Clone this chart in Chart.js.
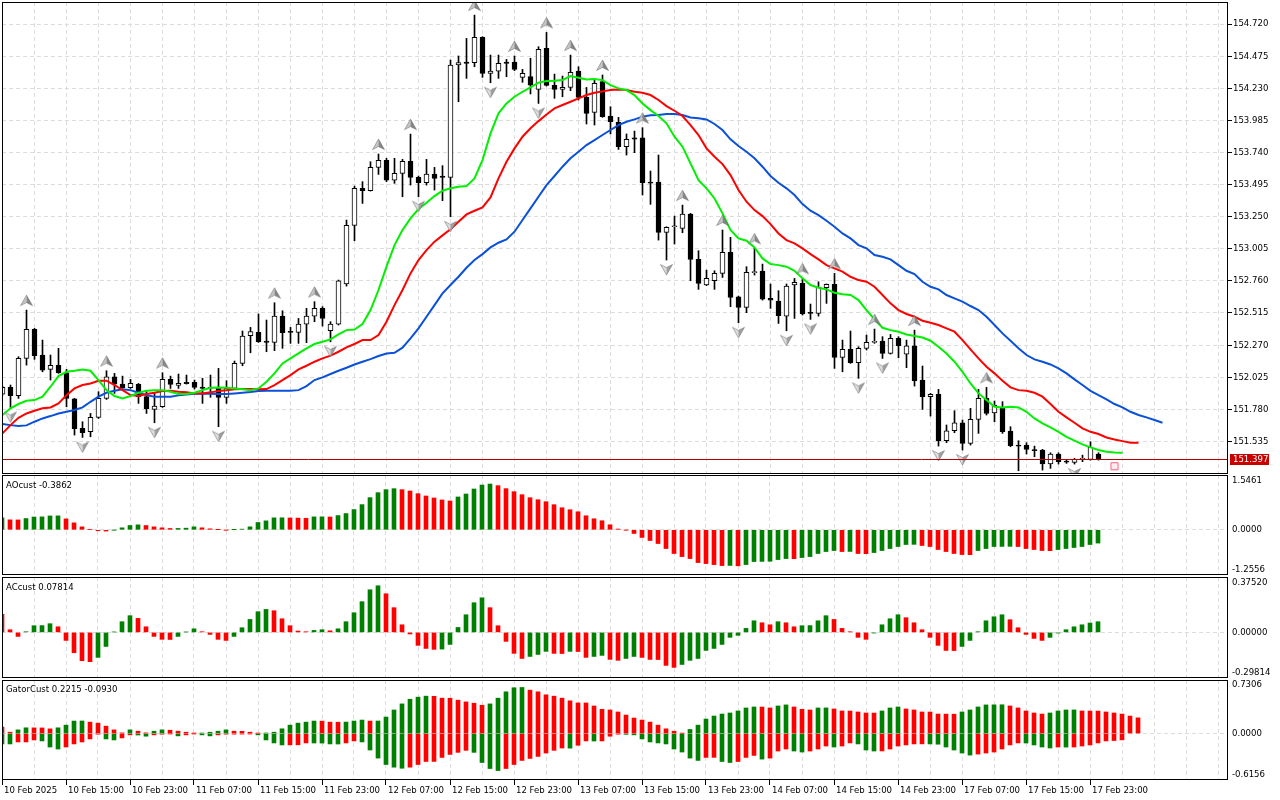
<!DOCTYPE html>
<html lang="en">
<head>
<meta charset="utf-8">
<title>USDJPY H1 - Alligator, AO, AC, Gator</title>
<style>
  body { margin: 0; background: #fff; width: 1280px; height: 800px; overflow: hidden; position: relative; }
  canvas { position: absolute; left: 0; }
  .ttl { position: absolute; left: 6px; font: 9.5px "DejaVu Sans Condensed", "DejaVu Sans", sans-serif; line-height: 11px; color: #000; white-space: pre; }
</style>
</head>
<body>
<canvas id="cMain" width="1280" height="472" style="top:2px"></canvas>
<canvas id="cAO" width="1280" height="100" style="top:475px"></canvas>
<canvas id="cAC" width="1280" height="101" style="top:577px"></canvas>
<canvas id="cGator" width="1280" height="120" style="top:680px"></canvas>
<div class="ttl" style="top:479px">AOcust -0.3862</div>
<div class="ttl" style="top:581px">ACcust 0.07814</div>
<div class="ttl" style="top:683px">GatorCust 0.2215 -0.0930</div>

<script src="https://cdn.jsdelivr.net/npm/chart.js@4.4.1/dist/chart.umd.min.js"></script>
<script>
// ---- data (hourly bars, 10 Feb 07:00 .. 18 Feb 00:00) ----
var timeLabels = ['10 Feb 2025', '10 Feb 15:00', '10 Feb 23:00', '11 Feb 07:00', '11 Feb 15:00', '11 Feb 23:00',
  '12 Feb 07:00', '12 Feb 15:00', '12 Feb 23:00', '13 Feb 07:00', '13 Feb 15:00', '13 Feb 23:00',
  '14 Feb 07:00', '14 Feb 15:00', '14 Feb 23:00', '17 Feb 07:00', '17 Feb 15:00', '17 Feb 23:00'];

var opens = [151.896,151.947,151.883,152.168,152.390,152.194,152.084,152.115,152.059,151.860,
  151.634,151.609,151.718,151.863,152.028,151.972,151.944,151.970,151.876,151.779,
  151.799,152.008,151.962,151.985,151.985,151.949,151.939,151.939,151.871,151.939,
  152.130,152.341,152.367,152.301,152.290,152.491,152.372,152.367,152.430,152.491,
  152.550,152.379,152.430,152.736,153.183,153.466,153.448,153.626,153.679,153.529,
  153.580,153.672,153.550,153.509,153.575,153.560,153.550,154.407,154.430,154.425,
  154.618,154.343,154.361,154.430,154.430,154.313,154.318,154.221,154.534,154.252,
  154.221,154.236,154.361,154.160,154.046,154.280,154.018,153.969,153.784,153.852,
  153.852,153.514,153.514,153.130,153.173,153.160,153.270,152.924,152.728,152.761,
  152.817,152.977,152.639,152.557,152.822,152.835,152.626,152.606,152.491,152.728,
  152.741,152.519,152.512,152.708,152.733,152.176,152.237,152.135,152.245,152.290,
  152.301,152.206,152.321,152.201,152.265,152.003,151.876,151.894,151.540,151.616,
  151.677,151.520,151.703,151.863,151.753,151.787,151.614,151.504,151.507,151.469,
  151.469,151.362,151.438,151.385,151.375,151.397,151.397,151.438];
var highs = [151.957,151.965,152.181,152.537,152.397,152.308,152.194,152.245,152.084,151.863,
  151.685,151.748,151.914,152.074,152.054,152.033,152.008,151.977,151.914,151.901,
  152.059,152.033,152.049,152.041,152.003,152.016,152.041,152.092,151.998,152.148,
  152.377,152.405,152.507,152.461,152.593,152.532,152.405,152.473,152.550,152.601,
  152.563,152.448,152.766,153.224,153.483,153.517,153.669,153.728,153.695,153.695,
  153.687,153.880,153.560,153.687,153.626,153.639,154.445,154.476,154.610,154.788,
  154.623,154.483,154.483,154.450,154.476,154.374,154.458,154.547,154.656,154.338,
  154.323,154.483,154.394,154.236,154.298,154.331,154.089,154.008,153.881,153.903,
  153.929,153.598,153.720,153.173,153.254,153.338,153.275,152.990,152.842,152.837,
  153.148,153.092,152.644,152.868,153.008,152.888,152.736,152.685,152.736,152.779,
  152.779,152.583,152.753,152.736,152.817,152.308,152.377,152.257,152.346,152.392,
  152.334,152.351,152.334,152.308,152.384,152.110,151.901,151.932,151.660,151.769,
  151.698,151.787,151.932,151.947,151.843,151.838,151.647,151.540,151.525,151.499,
  151.474,151.448,151.448,151.397,151.405,151.430,151.532,151.448];
var lows = [151.888,151.794,151.863,152.117,152.161,152.066,152.003,152.054,151.799,151.583,
  151.565,151.570,151.710,151.855,151.901,151.939,151.939,151.825,151.748,151.677,
  151.794,151.939,151.939,151.972,151.934,151.825,151.871,151.647,151.825,151.932,
  152.112,152.211,152.290,152.219,152.227,152.245,152.283,152.283,152.288,152.448,
  152.415,152.295,152.423,152.720,153.066,153.351,153.445,153.572,153.517,153.504,
  153.402,153.491,153.402,153.491,153.453,153.372,153.249,154.127,154.305,154.394,
  154.313,154.272,154.305,154.318,154.364,154.275,154.186,154.114,154.247,154.153,
  154.165,154.211,154.140,153.957,153.949,154.008,153.881,153.763,153.720,153.738,
  153.415,153.344,153.071,152.919,153.041,153.127,152.761,152.695,152.723,152.695,
  152.786,152.563,152.440,152.517,152.804,152.613,152.550,152.435,152.379,152.473,
  152.499,152.466,152.491,152.588,152.092,152.066,152.130,152.016,152.232,152.283,
  152.168,152.201,152.173,152.097,151.957,151.779,151.728,151.499,151.525,151.601,
  151.469,151.507,151.596,151.736,151.685,151.596,151.494,151.311,151.438,151.418,
  151.316,151.329,151.362,151.367,151.362,151.380,151.392,151.392];
var closes = [151.947,151.883,152.168,152.390,152.189,152.079,152.115,152.059,151.863,151.631,
  151.601,151.718,151.863,152.028,151.972,151.944,151.977,151.876,151.784,151.804,
  152.008,151.970,151.977,151.975,151.947,151.939,151.944,151.871,151.939,152.130,
  152.339,152.372,152.295,152.290,152.491,152.364,152.367,152.430,152.491,152.550,
  152.473,152.430,152.761,153.183,153.466,153.448,153.626,153.679,153.529,153.580,
  153.672,153.550,153.509,153.575,153.542,153.550,154.407,154.425,154.420,154.618,
  154.343,154.361,154.420,154.420,154.374,154.343,154.254,154.526,154.252,154.221,
  154.236,154.351,154.160,154.038,154.267,154.013,153.974,153.784,153.840,153.842,
  153.509,153.506,153.130,153.168,153.178,153.270,152.924,152.741,152.779,152.817,
  152.977,152.634,152.557,152.825,152.830,152.621,152.613,152.494,152.720,152.748,
  152.507,152.512,152.710,152.733,152.176,152.237,152.135,152.245,152.290,152.298,
  152.206,152.321,152.265,152.265,151.998,151.876,151.894,151.540,151.616,151.677,
  151.520,151.703,151.863,151.748,151.812,151.609,151.502,151.499,151.474,151.464,
  151.362,151.438,151.380,151.377,151.397,151.402,151.489,151.397];

// Alligator lines (already shifted forward: jaw 8, teeth 5, lips 3 bars)
var jaw = [151.667,151.659,151.652,151.657,151.685,151.710,151.728,151.748,151.761,151.774,
  151.794,151.837,151.876,151.906,151.921,151.932,151.926,151.906,151.888,151.876,
  151.876,151.876,151.886,151.893,151.899,151.901,151.899,151.896,151.896,151.901,
  151.906,151.911,151.919,151.921,151.921,151.921,151.921,151.926,151.957,152.003,
  152.023,152.049,152.074,152.097,152.122,152.143,152.163,152.186,152.206,152.211,
  152.250,152.321,152.397,152.486,152.575,152.664,152.728,152.791,152.860,152.919,
  152.964,153.015,153.051,153.076,153.135,153.224,153.313,153.402,153.491,153.560,
  153.631,153.695,153.745,153.796,153.834,153.873,153.911,153.949,153.974,153.992,
  154.013,154.023,154.025,154.033,154.033,154.025,154.007,154.000,153.992,153.957,
  153.911,153.840,153.789,153.745,153.695,153.631,153.560,153.509,153.466,153.415,
  153.346,153.295,153.262,153.219,153.173,153.122,153.084,153.033,153.008,152.957,
  152.944,152.924,152.880,152.837,152.812,152.753,152.715,152.695,152.652,152.626,
  152.601,152.568,152.537,152.486,152.423,152.359,152.303,152.245,152.194,152.161,
  152.143,152.122,152.092,152.054,152.008,151.965,151.921,151.888,151.855,151.820,
  151.794,151.761,151.736,151.718,151.698,151.677];
var teeth = [151.596,151.659,151.715,151.748,151.769,151.787,151.794,151.825,151.888,151.939,
  151.965,151.977,151.998,151.998,151.965,151.926,151.888,151.881,151.896,151.906,
  151.919,151.921,151.914,151.909,151.901,151.901,151.909,151.919,151.926,151.932,
  151.934,151.934,151.932,151.934,151.965,152.003,152.041,152.084,152.112,152.143,
  152.168,152.189,152.219,152.252,152.278,152.308,152.308,152.346,152.448,152.575,
  152.690,152.817,152.919,152.995,153.059,153.107,153.153,153.211,153.267,153.295,
  153.321,153.397,153.542,153.669,153.771,153.860,153.924,153.979,154.030,154.076,
  154.102,154.127,154.152,154.178,154.196,154.206,154.216,154.221,154.216,154.203,
  154.196,154.178,154.140,154.094,154.058,154.018,153.949,153.873,153.771,153.707,
  153.651,153.567,153.453,153.364,153.300,153.254,153.193,153.122,153.071,153.046,
  153.008,152.964,152.924,152.880,152.855,152.830,152.791,152.766,152.753,152.715,
  152.652,152.588,152.537,152.507,152.486,152.456,152.440,152.423,152.397,152.372,
  152.308,152.237,152.168,152.105,152.054,151.998,151.947,151.926,151.921,151.906,
  151.876,151.820,151.761,151.718,151.677,151.634,151.608,151.591,151.565,151.550,
  151.537,151.525,151.525];
var lips = [151.736,151.787,151.820,151.845,151.850,151.876,151.952,152.033,152.066,152.074,
  152.084,152.074,152.003,151.926,151.881,151.863,151.881,151.906,151.921,151.926,
  151.926,151.914,151.896,151.896,151.906,151.926,151.944,151.947,151.944,151.939,
  151.932,151.926,151.939,151.990,152.054,152.130,152.168,152.206,152.245,152.278,
  152.295,152.313,152.351,152.384,152.389,152.430,152.537,152.690,152.868,153.033,
  153.148,153.237,153.308,153.356,153.407,153.448,153.466,153.478,153.483,153.542,
  153.682,153.885,154.038,154.114,154.165,154.203,154.236,154.272,154.285,154.287,
  154.292,154.323,154.310,154.297,154.300,154.292,154.254,154.229,154.216,154.178,
  154.114,154.063,154.018,153.962,153.860,153.784,153.656,153.529,153.466,153.389,
  153.275,153.148,153.084,153.066,153.015,152.931,152.888,152.880,152.868,152.837,
  152.779,152.728,152.707,152.695,152.669,152.657,152.652,152.613,152.537,152.466,
  152.402,152.384,152.372,152.351,152.339,152.328,152.303,152.257,152.206,152.143,
  152.066,151.977,151.901,151.850,151.799,151.794,151.799,151.794,151.761,151.710,
  151.672,151.642,151.608,151.570,151.540,151.512,151.489,151.469,151.456,151.451,
  151.448];

var fractalUp = [3,13,20,34,39,47,51,59,64,68,71,75,80,85,90,94,100,104,109,114,123];
var fractalDown = [1,10,19,27,41,52,56,61,67,83,92,98,101,107,110,117,120,127,134];

var bidPrice = 151.397;
var markerBar = 139;
var markerPrice = 151.345;

var priceTicks = [154.720,154.475,154.230,153.985,153.740,153.495,153.250,153.005,152.760,152.515,152.270,152.025,151.780,151.535];

var ao = [0.378,0.315,0.313,0.357,0.405,0.409,0.438,0.441,0.346,0.220,
  0.094,0.010,-0.030,-0.040,-0.005,0.063,0.136,0.157,0.136,0.094,
  0.063,0.042,0.044,0.052,0.094,0.063,0.031,0.005,-0.005,0.005,
  0.021,0.094,0.231,0.283,0.378,0.380,0.375,0.370,0.365,0.409,
  0.410,0.405,0.451,0.514,0.640,0.797,1.018,1.175,1.270,1.301,
  1.270,1.228,1.144,1.070,1.007,0.944,0.913,1.039,1.133,1.291,
  1.417,1.448,1.397,1.302,1.206,1.111,1.016,0.952,0.889,0.794,
  0.698,0.635,0.571,0.444,0.349,0.286,0.159,0.025,-0.005,-0.116,
  -0.243,-0.339,-0.434,-0.593,-0.751,-0.847,-0.910,-1.037,-1.069,-1.101,
  -1.132,-1.128,-1.140,-1.100,-1.005,-1.000,-0.995,-0.942,-0.910,-0.915,
  -0.878,-0.847,-0.751,-0.688,-0.656,-0.688,-0.685,-0.751,-0.755,-0.720,
  -0.656,-0.593,-0.529,-0.466,-0.460,-0.497,-0.529,-0.624,-0.688,-0.751,
  -0.783,-0.786,-0.656,-0.593,-0.529,-0.526,-0.524,-0.530,-0.593,-0.624,
  -0.656,-0.660,-0.624,-0.593,-0.561,-0.529,-0.466,-0.420];
var aoDir = 'grrgggggrr' + 'rrrrggggrr' + 'rrgggrrrrg' + 'ggggggrrrg' + 'grgggggggg' +
  'rrrrrrrggg' + 'ggrrrrrrrr' + 'rrrrrrrrrr' + 'rrrrrrrrrr' + 'rgrggggggr' +
  'gggggrgrrg' + 'gggggrrrrr' + 'rrgggggrrr' + 'rrgggggg';

var ac = [0.135,0.020,-0.030,0.005,0.050,0.051,0.065,0.042,-0.060,-0.152,
  -0.212,-0.219,-0.187,-0.105,0.003,0.080,0.125,0.105,0.042,-0.030,
  -0.052,-0.053,-0.030,0.003,0.027,0.005,-0.015,-0.052,-0.060,-0.030,
  0.035,0.097,0.155,0.172,0.162,0.102,0.050,0.010,0.005,0.015,
  0.020,0.012,0.027,0.080,0.147,0.230,0.319,0.349,0.289,0.185,
  0.057,-0.012,-0.097,-0.120,-0.127,-0.125,-0.090,0.037,0.132,0.222,
  0.259,0.185,0.050,-0.067,-0.157,-0.195,-0.180,-0.165,-0.142,-0.157,
  -0.158,-0.142,-0.143,-0.187,-0.180,-0.172,-0.202,-0.209,-0.195,-0.180,
  -0.187,-0.202,-0.203,-0.247,-0.262,-0.240,-0.209,-0.195,-0.135,-0.120,
  -0.090,-0.037,-0.022,0.030,0.087,0.072,0.057,0.080,0.072,0.042,
  0.050,0.051,0.087,0.125,0.097,0.030,0.005,-0.037,-0.052,-0.005,
  0.057,0.102,0.132,0.110,0.072,0.020,-0.037,-0.097,-0.135,-0.136,
  -0.105,-0.060,0.005,0.087,0.117,0.132,0.095,0.035,-0.015,-0.045,
  -0.060,-0.037,-0.005,0.020,0.042,0.057,0.070,0.080];
var acDir = 'rrrggggrrr' + 'rrgggggrrr' + 'rrgggrrrrg' + 'ggggrrrrrg' + 'grggggggrr' +
  'rrrrrggggg' + 'grrrrrgggr' + 'rgrrggrrgg' + 'rrrrrggggg' + 'gggggrrgrr' +
  'ggggrrrrrg' + 'gggrrrrrrr' + 'ggggggrrrr' + 'rggggggg';

var gatorUp = [0.096,0.020,0.055,0.086,0.085,0.084,0.070,0.086,0.126,0.187,
  0.188,0.171,0.156,0.111,0.055,0.010,0.055,0.035,0.010,0.035,
  0.055,0.050,0.035,0.020,0.005,0.008,0.020,0.035,0.055,0.035,
  0.033,0.020,0.005,0.008,0.020,0.071,0.126,0.156,0.171,0.187,
  0.186,0.171,0.170,0.172,0.187,0.202,0.187,0.188,0.247,0.353,
  0.444,0.514,0.545,0.560,0.558,0.530,0.529,0.500,0.474,0.454,
  0.424,0.444,0.530,0.625,0.686,0.690,0.650,0.625,0.580,0.560,
  0.530,0.490,0.459,0.458,0.413,0.363,0.353,0.323,0.277,0.232,
  0.202,0.171,0.126,0.071,0.035,0.005,0.061,0.126,0.217,0.262,
  0.292,0.308,0.338,0.383,0.398,0.397,0.383,0.413,0.429,0.398,
  0.363,0.353,0.383,0.384,0.368,0.338,0.337,0.323,0.308,0.307,
  0.338,0.383,0.398,0.368,0.353,0.323,0.322,0.292,0.291,0.290,
  0.323,0.353,0.398,0.429,0.430,0.431,0.413,0.383,0.338,0.308,
  0.292,0.308,0.338,0.353,0.354,0.338,0.337,0.336,0.323,0.308,
  0.292,0.262,0.235];
var gatorUpDir = 'rrggrrrggg' + 'grrrrrgrrg' + 'grrrrggggr' + 'rrrggggggg' + 'rrrgggrggg' +
  'ggggrrrrrr' + 'rgggggrrrr' + 'rrrrrrrrrr' + 'rrrrrrgggg' + 'gggggrrggr' +
  'rrggrrrrrr' + 'gggrrrrrrr' + 'ggggggrrrr' + 'rggggrrrrr' + 'rrr';

var gatorDown = [-0.156,-0.156,-0.126,-0.126,-0.096,-0.111,-0.202,-0.232,-0.202,-0.156,
  -0.126,-0.081,-0.010,-0.081,-0.096,-0.066,-0.020,-0.022,-0.040,-0.020,
  -0.010,-0.005,-0.035,-0.020,-0.005,-0.020,-0.035,-0.020,-0.010,-0.009,
  -0.008,-0.007,-0.020,-0.096,-0.141,-0.171,-0.170,-0.169,-0.141,-0.142,
  -0.143,-0.156,-0.157,-0.141,-0.111,-0.126,-0.247,-0.368,-0.464,-0.504,
  -0.520,-0.504,-0.464,-0.419,-0.418,-0.358,-0.313,-0.282,-0.252,-0.282,
  -0.434,-0.524,-0.555,-0.524,-0.464,-0.403,-0.373,-0.343,-0.292,-0.252,
  -0.217,-0.219,-0.176,-0.111,-0.112,-0.111,-0.040,-0.010,-0.012,-0.020,
  -0.081,-0.126,-0.141,-0.156,-0.232,-0.277,-0.368,-0.403,-0.358,-0.357,
  -0.419,-0.434,-0.419,-0.358,-0.328,-0.383,-0.368,-0.262,-0.232,-0.262,
  -0.277,-0.262,-0.232,-0.187,-0.202,-0.187,-0.141,-0.156,-0.247,-0.262,
  -0.261,-0.232,-0.187,-0.171,-0.156,-0.155,-0.156,-0.160,-0.202,-0.247,
  -0.292,-0.323,-0.308,-0.292,-0.277,-0.232,-0.171,-0.141,-0.142,-0.171,
  -0.202,-0.217,-0.202,-0.203,-0.202,-0.187,-0.171,-0.141,-0.111,-0.105,
  -0.095];
var gatorDownDir = 'ggrrrgggrr' + 'rrrggrrggr' + 'rrgrrggrrr' + 'rrggggrrrg' + 'gggrrggggg' +
  'grrrrrrrrg' + 'gggrrrrrrr' + 'rgrrgrrrgg' + 'ggggggggrr' + 'ggrrrgrrrg' +
  'grrrgrrggg' + 'rrrrrrgggg' + 'ggrrrrrrgg' + 'ggrgrrrrrr' + 'r';

// ---- styling ----
var GREEN = '#008000', RED = '#ff0000', GRID = '#dcdcdc';
var FONT = { family: '"DejaVu Sans Condensed", "DejaVu Sans", sans-serif', size: 9.5 };
Chart.defaults.color = '#000';
Chart.defaults.font = FONT;

var gridBars = [];
for (var b = 0; b <= 152; b += 4) gridBars.push(b);

function pts(arr) {
  return arr.map(function (v, i) { return { x: i, y: v }; });
}
function dirColor(dirs) {
  return function (c) { return dirs.charAt(c.dataIndex) === 'g' ? GREEN : RED; };
}
function noPad(s) {
  s.paddingTop = 0; s.paddingBottom = 0; s.paddingLeft = 0; s.paddingRight = 0;
}

var framePlugin = {
  id: 'frame',
  afterDraw: function (chart) {
    var a = chart.chartArea, ctx = chart.ctx;
    ctx.save();
    ctx.strokeStyle = '#000';
    ctx.lineWidth = 1;
    ctx.strokeRect(a.left + 0.5, a.top + 0.5, a.right - a.left - 1, a.bottom - a.top - 1);
    ctx.restore();
  }
};

var bidPlugin = {
  id: 'bid',
  afterDatasetsDraw: function (chart) {
    var a = chart.chartArea, ctx = chart.ctx;
    var y = Math.round(chart.scales.y.getPixelForValue(bidPrice)) + 0.5;
    ctx.save();
    ctx.strokeStyle = '#b40000';
    ctx.lineWidth = 1;
    ctx.beginPath(); ctx.moveTo(a.left, y); ctx.lineTo(a.right, y); ctx.stroke();
    ctx.restore();
  },
  afterDraw: function (chart) {
    var a = chart.chartArea, ctx = chart.ctx;
    var y = Math.round(chart.scales.y.getPixelForValue(bidPrice));
    ctx.save();
    ctx.fillStyle = '#c80000';
    ctx.fillRect(a.right + 2, y - 5, 39, 11);
    ctx.fillStyle = '#fff';
    ctx.font = FONT.size + 'px ' + FONT.family;
    ctx.textBaseline = 'middle';
    ctx.fillText(bidPrice.toFixed(3), a.right + 5, y + 0.5);
    ctx.restore();
  }
};

function fractalArrow(up) {
  var c = document.createElement('canvas');
  c.width = 13; c.height = 40;
  var g = c.getContext('2d');
  if (!up) { g.translate(0, 40); g.scale(1, -1); }
  // arrow sits ~9px beyond the bar extreme (canvas centre = anchor)
  g.beginPath(); g.moveTo(6.5, 5); g.lineTo(6.5, 12.5); g.lineTo(0.5, 15.5); g.closePath();
  g.fillStyle = up ? '#c4c4c4' : '#dcdcdc'; g.fill();
  g.beginPath(); g.moveTo(6.5, 5); g.lineTo(12.5, 15.5); g.lineTo(6.5, 12.5); g.closePath();
  g.fillStyle = up ? '#858585' : '#a0a0a0'; g.fill();
  g.strokeStyle = 'rgba(100,100,100,0.7)'; g.lineWidth = 0.7;
  g.beginPath(); g.moveTo(6.5, 5); g.lineTo(12.5, 15.5); g.lineTo(6.5, 12.5); g.lineTo(0.5, 15.5); g.closePath(); g.stroke();
  return c;
}

function timeAxis(min, showLabels) {
  var ax = {
    type: 'linear', min: min, max: min + 153.25, offset: false,
    afterBuildTicks: function (s) { s.ticks = gridBars.map(function (v) { return { value: v }; }); },
    grid: { color: GRID, offset: false, drawTicks: false },
    border: { display: false, dash: [4, 3] },
    ticks: { display: false }
  };
  if (showLabels) {
    ax.grid.drawTicks = true;
    ax.grid.tickLength = 5;
    ax.grid.tickColor = function (c) {
      var v = c.tick ? c.tick.value : -1;
      return (v % 8 === 0 && v / 8 < timeLabels.length) ? '#000' : 'rgba(0,0,0,0)';
    };
    ax.ticks = {
      display: true, autoSkip: false, maxRotation: 0, minRotation: 0,
      align: 'start', labelOffset: 2, padding: 0, font: FONT, color: '#000',
      callback: function (v) { return (v % 8 === 0 && v / 8 < timeLabels.length) ? timeLabels[v / 8] : ''; }
    };
    ax.afterFit = function (s) { s.height = 20; noPad(s); };
  } else {
    ax.afterFit = function (s) { s.height = 0; noPad(s); };
  }
  return ax;
}

function valueAxis(min, max, ticks, digits, zeroGridOnly) {
  return {
    type: 'linear', position: 'right', min: min, max: max,
    afterBuildTicks: function (s) { s.ticks = ticks.map(function (v) { return { value: v }; }); },
    afterFit: function (s) { s.width = 52; noPad(s); },
    grid: zeroGridOnly ? {
      drawTicks: false,
      color: function (c) { return c.tick && c.tick.value === 0 ? GRID : 'rgba(0,0,0,0)'; }
    } : { color: GRID, tickColor: '#000', tickLength: 4 },
    border: { display: false, dash: [4, 3] },
    ticks: {
      padding: zeroGridOnly ? 4 : 1, font: FONT, color: '#000',
      callback: function (v) { return v.toFixed(digits); }
    }
  };
}

var baseOptions = function (scales) {
  return {
    responsive: false, animation: false, events: [],
    layout: { padding: { left: 2, right: 0, top: 0, bottom: 0 }, autoPadding: false },
    plugins: { legend: { display: false }, tooltip: { enabled: false } },
    scales: scales
  };
};

// ---- main price chart ----
new Chart(document.getElementById('cMain'), {
  type: 'bar',
  data: {
    datasets: [
      { type: 'scatter', data: fractalUp.map(function (i) { return { x: i, y: highs[i] }; }),
        pointStyle: fractalArrow(true), order: 0 },
      { type: 'scatter', data: fractalDown.map(function (i) { return { x: i, y: lows[i] }; }),
        pointStyle: fractalArrow(false), order: 0 },
      { type: 'scatter', data: [{ x: markerBar, y: markerPrice }], pointStyle: 'rect', pointRadius: 5,
        borderColor: '#ff6080', backgroundColor: 'rgba(255,225,232,0.6)', borderWidth: 1, order: 0 },
      { type: 'line', data: pts(lips), borderColor: '#00f000', borderWidth: 2, pointRadius: 0, order: 1 },
      { type: 'line', data: pts(teeth), borderColor: '#ff0000', borderWidth: 2, pointRadius: 0, order: 1 },
      { type: 'line', data: pts(jaw), borderColor: '#0a50d8', borderWidth: 2, pointRadius: 0, order: 1 },
      { type: 'bar', data: opens.map(function (o, i) { return { x: i, y: [o, closes[i]] }; }),
        backgroundColor: function (c) { var i = c.dataIndex; return closes[i] >= opens[i] ? '#fff' : '#000'; },
        borderColor: '#000', borderWidth: 1, borderSkipped: false, barThickness: 5, minBarLength: 1,
        grouped: false, order: 3 },
      { type: 'bar', data: highs.map(function (h, i) { return { x: i, y: [lows[i], h] }; }),
        backgroundColor: '#000', barThickness: 1, grouped: false, order: 4 }
    ]
  },
  options: baseOptions({
    x: timeAxis(-0.0625, false),
    y: valueAxis(151.286, 154.888, priceTicks, 3, false)
  }),
  plugins: [framePlugin, bidPlugin]
});

// ---- AO ----
new Chart(document.getElementById('cAO'), {
  type: 'bar',
  data: { datasets: [{ data: pts(ao), backgroundColor: dirColor(aoDir), barThickness: 4 }] },
  options: baseOptions({
    x: timeAxis(0, false),
    y: valueAxis(-1.430, 1.734, [1.5461, 0, -1.2556], 4, true)
  }),
  plugins: [framePlugin]
});

// ---- AC ----
new Chart(document.getElementById('cAC'), {
  type: 'bar',
  data: { datasets: [{ data: pts(ac), backgroundColor: dirColor(acDir), barThickness: 4 }] },
  options: baseOptions({
    x: timeAxis(0, false),
    y: valueAxis(-0.3412, 0.4145, [0.37520, 0, -0.29814], 5, true)
  }),
  plugins: [framePlugin]
});

// ---- Gator ----
new Chart(document.getElementById('cGator'), {
  type: 'bar',
  data: {
    datasets: [
      { data: pts(gatorUp), backgroundColor: dirColor(gatorUpDir), barThickness: 4, grouped: false },
      { data: pts(gatorDown), backgroundColor: dirColor(gatorDownDir), barThickness: 4, grouped: false }
    ]
  },
  options: baseOptions({
    x: timeAxis(0, true),
    y: valueAxis(-0.696, 0.802, [0.7306, 0, -0.6156], 4, true)
  }),
  plugins: [framePlugin]
});
</script>
</body>
</html>
